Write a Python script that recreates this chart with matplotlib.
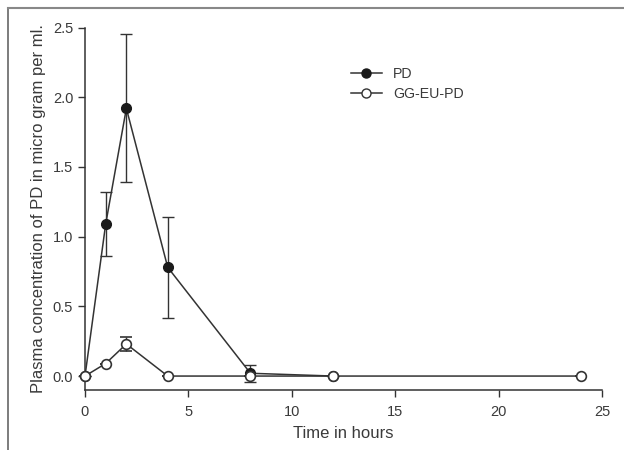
"""Plasma concentration of PD vs time, PD and GG-EU-PD."""

import matplotlib
matplotlib.use("Agg")
import matplotlib.pyplot as plt
from matplotlib.lines import Line2D

plt.rcParams["font.family"] = ["Liberation Sans", "DejaVu Sans"]

# data
time_pd = [0, 1, 2, 4, 8, 12]
conc_pd = [0.0, 1.09, 1.92, 0.78, 0.02, 0.0]
err_pd = [0.0, 0.23, 0.53, 0.36, 0.06, 0.0]

time_gg = [0, 1, 2, 4, 8, 12, 24]
conc_gg = [0.0, 0.09, 0.23, 0.0, 0.0, 0.0, 0.0]
err_gg = [0.0, 0.0, 0.05, 0.0, 0.0, 0.0, 0.0]

x_ticks = [0, 5, 10, 15, 20, 25]
y_ticks = [0.0, 0.5, 1.0, 1.5, 2.0, 2.5]

LINE = "#333333"
TEXT = "#3a3a3a"

fig = plt.figure(figsize=(6.24, 4.5), dpi=100)
ax = fig.add_axes([85 / 624, 1 - 390 / 450, 517 / 624, 362.5 / 450])

# frame of the scanned figure (left and top only)
fig.add_artist(Line2D([8 / 624, 8 / 624], [0, 1 - 8 / 450],
                      transform=fig.transFigure, color="#666666", lw=1.2))
fig.add_artist(Line2D([8 / 624, 1], [1 - 8 / 450, 1 - 8 / 450],
                      transform=fig.transFigure, color="#888888", lw=1.5))

ax.errorbar(time_pd, conc_pd, yerr=err_pd, color=LINE, lw=1.1,
            marker="o", ms=7, mfc="#1a1a1a", mec="#1a1a1a",
            ecolor=LINE, elinewidth=1.0, capsize=4.5, capthick=1.0,
            clip_on=False, zorder=3)
ax.errorbar(time_gg, conc_gg, yerr=err_gg, color=LINE, lw=1.1,
            marker="o", ms=7, mfc="white", mec=LINE, mew=1.2,
            ecolor=LINE, elinewidth=1.0, capsize=4.5, capthick=1.0,
            clip_on=False, zorder=4)

ax.set_xlim(0, 25)
ax.set_ylim(-0.1, 2.5)
ax.set_xticks(x_ticks)
ax.set_yticks(y_ticks)
ax.set_xticklabels([str(t) for t in x_ticks])
ax.set_yticklabels([f"{t:.1f}" for t in y_ticks])

for side in ("top", "right"):
    ax.spines[side].set_visible(False)
for side in ("left", "bottom"):
    ax.spines[side].set_color(LINE)
    ax.spines[side].set_linewidth(1.1)
ax.spines["left"].set_bounds(-0.1, 2.5)

ax.tick_params(direction="out", length=5, width=1.0, color=LINE,
               labelsize=10.5, labelcolor=TEXT, pad=3.5)
ax.tick_params(axis="x", pad=5.5)
ax.set_xlabel("Time in hours", fontsize=12, color=TEXT, labelpad=5)
ax.set_ylabel("Plasma concentration of PD in micro gram per ml.",
              fontsize=12, color=TEXT, labelpad=5)

handles = [
    Line2D([], [], color=LINE, lw=1.1, marker="o", ms=6.5, mfc="#1a1a1a", mec="#1a1a1a"),
    Line2D([], [], color=LINE, lw=1.1, marker="o", ms=6.5, mfc="white", mec=LINE),
]
leg = ax.legend(handles, ["PD", "GG-EU-PD"], frameon=False, fontsize=10.2,
                loc="upper left", bbox_to_anchor=(345 / 624, 1 - 61 / 450),
                bbox_transform=fig.transFigure, handlelength=2.2,
                handletextpad=0.8, labelspacing=0.45, borderaxespad=0)
for t in leg.get_texts():
    t.set_color(TEXT)

fig.savefig("out.png", dpi=100, facecolor="white")
